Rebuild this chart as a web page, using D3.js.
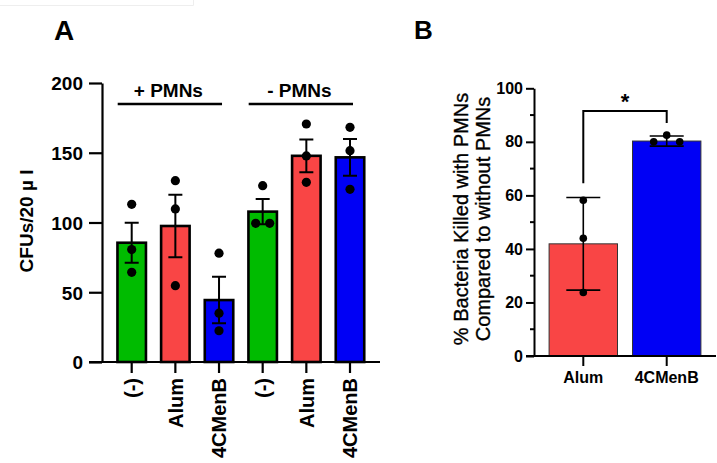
<!DOCTYPE html>
<html><head><meta charset="utf-8">
<script src="https://cdn.jsdelivr.net/npm/d3@7"></script>
<style>
body{margin:0;background:#fff;}
svg{display:block;font-family:"Liberation Sans",Arial,sans-serif;font-weight:bold;}
</style></head>
<body>
<svg id="c" width="717" height="463"></svg>
<script>
// ---------- Data ----------
const catsA = ["(-)", "Alum", "4CMenB", "(-)", "Alum", "4CMenB"];
const groupsA = ["+ PMNs", "- PMNs"];
const meansA = [85.5, 97.5, 44.4, 107.8, 147.8, 146.7];
const semA = [14.3, 22.4, 16.7, 9.0, 11.7, 13.2];
const pointsA = [[113, 80.6, 64.3], [130, 109.7, 54.7], [78, 35, 22.4], [126.4, 99.4, 99.4], [170.6, 147.7, 128.8], [168.2, 151.5, 123.8]];
const colorsA = ["#00BB00", "#F94545", "#0000F5", "#00BB00", "#F94545", "#0000F5"];
const ticksA = [0, 50, 100, 150, 200];

const catsB = ["Alum", "4CMenB"];
const meansB = [41.9, 80.3];
const sdB = [17.3, 1.9];
const pointsB = [[58.2, 44, 23.7], [82.5, 80, 80]];
const colorsB = ["#F94545", "#0000F5"];
const ticksB = [0, 20, 40, 60, 80, 100];
const minorTicksB = [10, 30, 50, 70, 90];

const svg = d3.select("#c");

// faint frame at top-left
svg.append("path").attr("d", "M0,5.5H193.5V0").attr("fill", "none").attr("stroke", "#eeeeee").attr("stroke-width", 1);

// jitter helper: spread duplicate values horizontally
function jitter(vals, spread) {
  return vals.map((v, i) => {
    const same = vals.map((w, j) => w === v ? j : -1).filter(j => j >= 0);
    if (same.length < 2) return 0;
    const k = same.indexOf(i);
    return (k - (same.length - 1) / 2) * spread;
  });
}

// ---------- Panel A ----------
const yA = d3.scaleLinear().domain([0, 200]).range([362, 83]);
const xA = d3.scalePoint().domain(d3.range(catsA.length)).range([131.7, 350]);
const bwA = 28.5;

svg.append("text").attr("x", 54).attr("y", 40).attr("font-size", 28).text("A");

const gA = svg.append("g");
gA.selectAll("rect.bar").data(meansA).join("rect")
  .attr("x", (d, i) => xA(i) - bwA / 2).attr("width", bwA)
  .attr("y", d => yA(d)).attr("height", d => yA(0) - yA(d))
  .attr("fill", (d, i) => colorsA[i]).attr("stroke", "#000").attr("stroke-width", 2.6);

// error bars
meansA.forEach((m, i) => {
  const x = xA(i), cw = 7;
  const p = d3.path();
  p.moveTo(x, yA(m - semA[i])); p.lineTo(x, yA(m + semA[i]));
  p.moveTo(x - cw, yA(m + semA[i])); p.lineTo(x + cw, yA(m + semA[i]));
  p.moveTo(x - cw, yA(m - semA[i])); p.lineTo(x + cw, yA(m - semA[i]));
  gA.append("path").attr("d", p.toString()).attr("stroke", "#000").attr("stroke-width", 2).attr("fill", "none");
});
pointsA.forEach((pts, i) => {
  const jx = jitter(pts, 14);
  pts.forEach((v, k) => gA.append("circle").attr("cx", xA(i) + jx[k]).attr("cy", yA(v)).attr("r", 4.6).attr("fill", "#000"));
});

const axYA = gA.append("g").attr("transform", "translate(102,0)")
  .call(d3.axisLeft(yA).tickValues(ticksA).tickSize(13).tickPadding(6).tickSizeOuter(0));
axYA.select(".domain").attr("stroke-width", 2.2);
axYA.selectAll(".tick line").attr("stroke-width", 2.2);
axYA.selectAll("text").attr("font-size", 19).attr("font-family", "Liberation Sans, Arial").attr("font-weight", "bold").attr("fill", "#000").attr("dy", "0.36em");

// x axis A
const xAxisA = gA.append("g").attr("transform", `translate(0,${yA(0)})`);
xAxisA.append("line").attr("x1", 89).attr("x2", 380).attr("stroke", "#000").attr("stroke-width", 2.2);
catsA.forEach((c, i) => {
  xAxisA.append("line").attr("x1", xA(i)).attr("x2", xA(i)).attr("y1", 0).attr("y2", 11).attr("stroke", "#000").attr("stroke-width", 2.2);
  xAxisA.append("text").attr("transform", `translate(${xA(i)},16) rotate(-90)`)
    .attr("text-anchor", "end").attr("dy", "0.36em").attr("font-size", 20).text(c);
});

// group labels
groupsA.forEach((g, gi) => {
  const x0 = xA(gi * 3) - 14, x1 = xA(gi * 3 + 2) + 3;
  gA.append("line").attr("x1", x0).attr("x2", x1).attr("y1", 104).attr("y2", 104).attr("stroke", "#000").attr("stroke-width", 2.4);
  gA.append("text").attr("x", (x0 + x1) / 2 - 1.5).attr("y", 97).attr("text-anchor", "middle").attr("font-size", 19).text(g);
});

gA.append("text").attr("transform", "translate(33,221) rotate(-90)").attr("text-anchor", "middle").attr("font-size", 19).text("CFUs/20 \u00b5 l");

// ---------- Panel B ----------
const yB = d3.scaleLinear().domain([0, 100]).range([356, 88.3]);
const xB = d3.scaleBand().domain(catsB).range([534, 716]).paddingInner(0.18).paddingOuter(0.181);
const gB = svg.append("g");

svg.append("text").attr("x", 414).attr("y", 39).attr("font-size", 26).text("B");

gB.selectAll("rect.bar").data(meansB).join("rect")
  .attr("x", (d, i) => xB(catsB[i])).attr("width", xB.bandwidth())
  .attr("y", d => yB(d)).attr("height", d => yB(0) - yB(d))
  .attr("fill", (d, i) => colorsB[i]).attr("stroke", "#333").attr("stroke-width", 1);

meansB.forEach((m, i) => {
  const x = xB(catsB[i]) + xB.bandwidth() / 2, cw = 17;
  const p = d3.path();
  p.moveTo(x, yB(m - sdB[i])); p.lineTo(x, yB(m + sdB[i]));
  p.moveTo(x - cw, yB(m + sdB[i])); p.lineTo(x + cw, yB(m + sdB[i]));
  p.moveTo(x - cw, yB(m - sdB[i])); p.lineTo(x + cw, yB(m - sdB[i]));
  gB.append("path").attr("d", p.toString()).attr("stroke", "#000").attr("stroke-width", 1.6).attr("fill", "none");
});
pointsB.forEach((pts, i) => {
  const x = xB(catsB[i]) + xB.bandwidth() / 2;
  const jx = jitter(pts, 26);
  pts.forEach((v, k) => gB.append("circle").attr("cx", x + jx[k]).attr("cy", yB(v)).attr("r", 3.8).attr("fill", "#000"));
});

const axYB = gB.append("g").attr("transform", "translate(534,0)")
  .call(d3.axisLeft(yB).tickValues(ticksB).tickSize(8).tickPadding(3).tickSizeOuter(0));
axYB.select(".domain").attr("stroke-width", 2);
axYB.selectAll(".tick line").attr("stroke-width", 2);
axYB.selectAll("text").attr("font-size", 16).attr("font-family", "Liberation Sans, Arial").attr("font-weight", "bold").attr("fill", "#000");
gB.selectAll("line.minor").data(minorTicksB).join("line")
  .attr("x1", 530).attr("x2", 534).attr("y1", d => yB(d)).attr("y2", d => yB(d)).attr("stroke", "#000").attr("stroke-width", 2);

const xAxisB = gB.append("g").attr("transform", `translate(0,${yB(0)})`);
xAxisB.append("line").attr("x1", 526).attr("x2", 716).attr("stroke", "#000").attr("stroke-width", 2);
catsB.forEach(c => {
  const x = xB(c) + xB.bandwidth() / 2;
  xAxisB.append("line").attr("x1", x).attr("x2", x).attr("y1", 0).attr("y2", 10).attr("stroke", "#000").attr("stroke-width", 2);
  xAxisB.append("text").attr("x", x).attr("y", 27).attr("text-anchor", "middle").attr("font-size", 16).text(c);
});

// significance bracket
{
  const x0 = xB(catsB[0]) + xB.bandwidth() / 2, x1 = xB(catsB[1]) + xB.bandwidth() / 2;
  const yTop = yB(91.5);
  const p = d3.path();
  p.moveTo(x0, yB(64.5)); p.lineTo(x0, yTop); p.lineTo(x1, yTop); p.lineTo(x1, yB(87));
  gB.append("path").attr("d", p.toString()).attr("stroke", "#000").attr("stroke-width", 2).attr("fill", "none");
  gB.append("text").attr("x", (x0 + x1) / 2).attr("y", yTop - 2).attr("text-anchor", "middle").attr("font-size", 22).text("*");
}

const ylB = gB.append("text").attr("transform", "translate(468,219) rotate(-90)").attr("text-anchor", "middle")
  .attr("font-size", 20).attr("font-weight", "normal").attr("stroke", "#000").attr("stroke-width", 0.35);
ylB.append("tspan").attr("x", 0).attr("dy", 0).text("% Bacteria Killed with PMNs");
ylB.append("tspan").attr("x", 0).attr("dy", 22).text("Compared to without PMNs");
</script>
</body></html>
